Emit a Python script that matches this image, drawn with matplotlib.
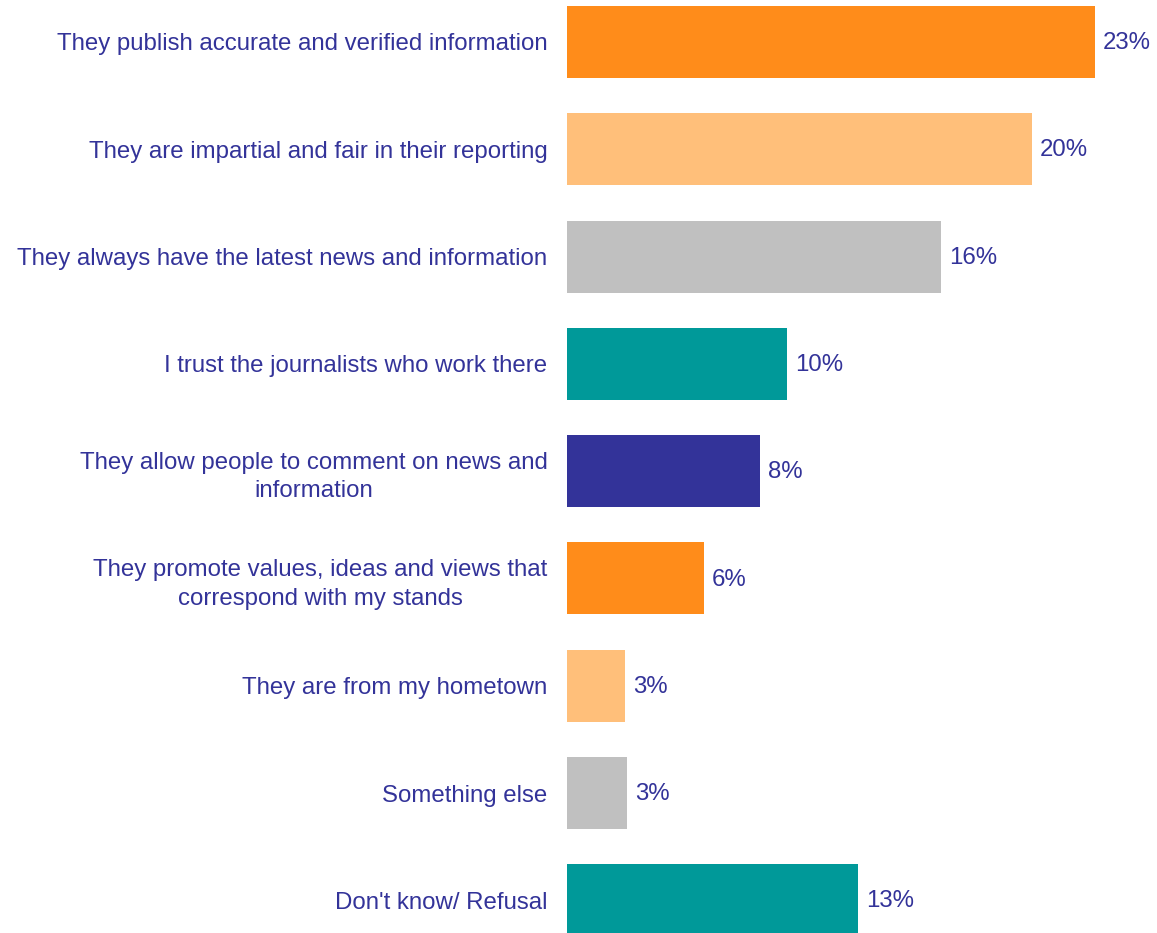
import matplotlib

matplotlib.use("Agg")
import matplotlib.pyplot as plt

categories = [
    "They publish accurate and verified information",
    "They are impartial and fair in their reporting",
    "They always have the latest news and information",
    "I trust the journalists who work there",
    "They allow people to comment on news and\ninformation",
    "They promote values, ideas and views that\ncorrespond with my stands",
    "They are from my hometown",
    "Something else",
    "Don't know/ Refusal",
]
shares = [23.0, 20.25, 16.3, 9.6, 8.4, 5.97, 2.53, 2.6, 12.67]
bar_colors = [
    "#FF8C1A", "#FFBF7A", "#C0C0C0", "#009999", "#333399",
    "#FF8C1A", "#FFBF7A", "#C0C0C0", "#009999",
]
text_color = "#333399"

plt.rcParams["font.family"] = ["Liberation Sans", "DejaVu Sans"]

fig = plt.figure(figsize=(11.57, 9.33), dpi=100)
ax = fig.add_axes([567 / 1157, 0, 590 / 1157, 1])

pos = list(range(len(categories)))
ax.barh(pos, shares, height=0.671, color=bar_colors)
ax.set_xlim(0, 25.7)
ax.set_ylim(8.304, -0.391)

for y, v in zip(pos, shares):
    ax.text(v + 0.35, y + 0.01, f"{v:.0f}%", va="center", ha="left",
            fontsize=17.3, color=text_color)

ax.set_yticks(pos)
ax.set_yticklabels(categories, fontsize=17.3, color=text_color,
                   linespacing=1.4, multialignment="center")
ax.tick_params(axis="y", length=0, pad=14)
ax.set_xticks([])
for side in ax.spines.values():
    side.set_visible(False)

fig.savefig("out.png", dpi=100)
plt.close(fig)
